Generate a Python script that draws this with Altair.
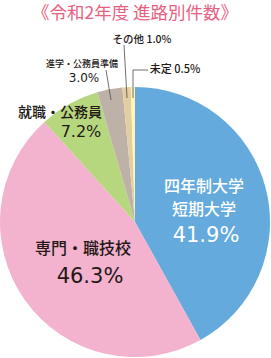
import altair as alt
import pandas as pd

# ---- data ----
categories = ["四年制大学・短期大学", "専門・職技校", "就職・公務員", "進学・公務員準備", "その他", "未定"]
values = [41.9, 46.3, 7.2, 3.0, 1.0, 0.5]
colors = ["#64AADC", "#F3B3CF", "#B7D77F", "#BEB1A8", "#E3CEA1", "#FFF4B5"]
title_text = "《令和2年度 進路別件数》"

df = pd.DataFrame({"cat": categories, "value": values, "order": list(range(len(values)))})
pct = [f"{v:.1f}%" for v in values]

# ---- layout (annotation positions, px) ----
CX, CY, R = 135, 222, 135
JP = "Noto Sans CJK JP"
NUM = "DejaVu Sans"

labels = pd.DataFrame({
    "text": ["四年制大学", "短期大学", pct[0],
             "専門・職技校", pct[1],
             "就職・公務員", pct[2],
             "進学・公務員準備", pct[3],
             "その他 " + pct[4], "未定 " + pct[5]],
    "x": [204, 204, 206, 83, 90, 60, 81, 82, 84, 142, 175],
    "y": [187, 210, 236, 249, 277, 113, 132, 64, 78, 40, 70],
    "size": [16, 16, 21, 16, 21, 14, 16, 9, 12, 10.5, 11],
    "color": ["#FFFFFF", "#FFFFFF", "#FFFFFF", "#231815", "#231815", "#231815", "#231815",
              "#231815", "#231815", "#231815", "#231815"],
    "font": [JP, JP, NUM, JP, NUM, JP, NUM, JP, NUM, JP, JP],
})

leaders = pd.DataFrame({
    "x": [106, 124, 148, 133],
    "y": [70, 45, 70, 70],
    "x2": [111, 127, 133, 133],
    "y2": [100, 98, 70, 98],
})

base = alt.Chart(df)
pie = base.mark_arc(radius=R, strokeWidth=0).encode(
    theta=alt.Theta("value:Q", stack=True),
    color=alt.Color("cat:N", scale=alt.Scale(domain=categories, range=colors), legend=None),
    order=alt.Order("order:Q"),
    x=alt.value(CX),
    y=alt.value(CY),
)

lines = alt.Chart(leaders).mark_rule(color="#4D4D4D", strokeWidth=0.8).encode(
    x=alt.X("x:Q", scale=None), y=alt.Y("y:Q", scale=None),
    x2="x2:Q", y2="y2:Q",
)

layers = [pie, lines]
for f in [JP, NUM]:
    sub = labels[labels["font"] == f]
    layers.append(
        alt.Chart(sub).mark_text(font=f, baseline="middle", align="center",
                                 fontWeight=500 if f == JP else "normal").encode(
            x=alt.X("x:Q", scale=None), y=alt.Y("y:Q", scale=None),
            text="text:N",
            size=alt.Size("size:Q", scale=None),
            color=alt.Color("color:N", scale=None),
        )
    )

title = alt.Chart(pd.DataFrame({"t": [title_text]})).mark_text(
    font=JP, fontSize=17.5, color="#E8607F", baseline="middle", align="center"
).encode(x=alt.value(135), y=alt.value(14), text="t:N")
layers.append(title)

chart = alt.layer(*layers).properties(
    width=271, height=358, padding=0, autosize=alt.AutoSizeParams(type="none"),
    background="white",
).configure_view(stroke=None)

chart.save("out.html", embed_options={"renderer": "svg", "actions": False})
